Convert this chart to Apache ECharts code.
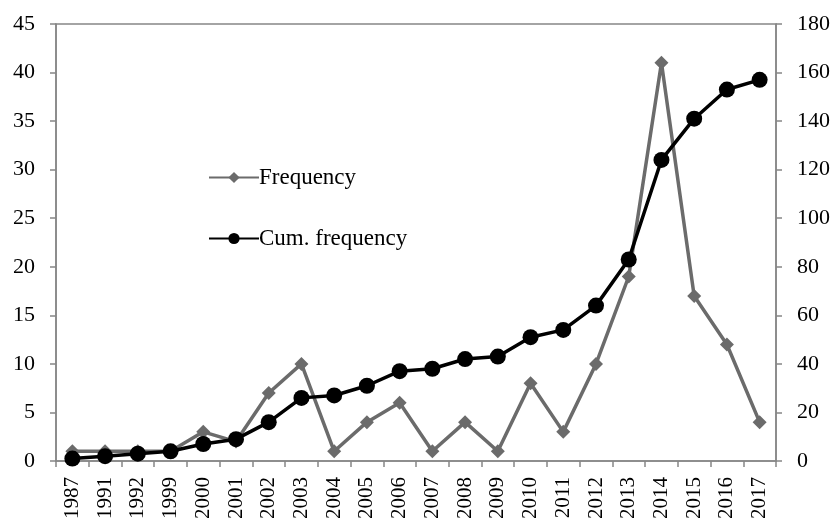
<!DOCTYPE html>
<html><head><meta charset="utf-8">
<script src="https://cdn.jsdelivr.net/npm/echarts@6/dist/echarts.min.js"></script>
<style>html,body{margin:0;padding:0;background:#fff}#c{width:837px;height:525px}</style>
</head><body><div id="c"></div>
<script>
var years = ['1987','1991','1992','1999','2000','2001','2002','2003','2004','2005','2006','2007','2008','2009','2010','2011','2012','2013','2014','2015','2016','2017'];
var frequency = [1,1,1,1,3,2,7,10,1,4,6,1,4,1,8,3,10,19,41,17,12,4];
var cumFrequency = [1,2,3,4,7,9,16,26,27,31,37,38,42,43,51,54,64,83,124,141,153,157];
var leftTicks = {min:0, max:45, interval:5};
var rightTicks = {min:0, max:180, interval:20};

var font = '"Liberation Serif","Times New Roman",serif';
var axisGray = '#868686';
var chart = echarts.init(document.getElementById('c'));
chart.setOption({
  animation:false,
  backgroundColor:'#fff',
  grid:{left:56, right:61, top:24, bottom:64, show:true, borderColor:axisGray, borderWidth:1.5},
  legend:{
    orient:'vertical', left:203, top:161, itemGap:38, itemWidth:50, itemHeight:14,
    textStyle:{fontFamily:font, fontSize:23, color:'#000', padding:[0,0,0,-5]},
    data:['Frequency','Cum. frequency']
  },
  xAxis:{
    type:'category', data:years, boundaryGap:true,
    axisLine:{lineStyle:{color:axisGray, width:1.5}},
    axisTick:{show:true, length:6, lineStyle:{color:axisGray, width:1.5}},
    axisLabel:{rotate:90, fontFamily:font, fontSize:21, color:'#000', margin:16, interval:0}
  },
  yAxis:[{
    type:'value', min:leftTicks.min, max:leftTicks.max, interval:leftTicks.interval,
    splitLine:{show:false},
    axisLine:{show:true, lineStyle:{color:axisGray, width:1.5}},
    axisTick:{show:true, length:6, lineStyle:{color:axisGray, width:1.5}},
    axisLabel:{fontFamily:font, fontSize:22, color:'#000', margin:21}
  },{
    type:'value', min:rightTicks.min, max:rightTicks.max, interval:rightTicks.interval,
    splitLine:{show:false}, position:'right',
    axisLine:{show:true, lineStyle:{color:axisGray, width:1.5}},
    axisTick:{show:true, length:6, lineStyle:{color:axisGray, width:1.5}},
    axisLabel:{fontFamily:font, fontSize:22, color:'#000', margin:21}
  }],
  series:[{
    name:'Frequency', type:'line', yAxisIndex:0, data:frequency,
    symbol:'diamond', symbolSize:14,
    lineStyle:{color:'#6b6b6b', width:3.5},
    itemStyle:{color:'#6b6b6b'}
  },{
    name:'Cum. frequency', type:'line', yAxisIndex:1, data:cumFrequency,
    symbol:'circle', symbolSize:16,
    lineStyle:{color:'#000', width:3.5},
    itemStyle:{color:'#000'}
  }]
});
</script></body></html>
